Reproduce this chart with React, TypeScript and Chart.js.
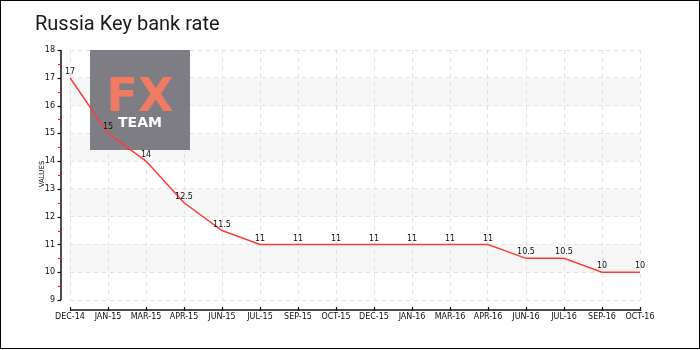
import React, { useEffect, useRef } from "react";
import { Chart, registerables } from "chart.js";

Chart.register(...registerables);

const categories = [
  "DEC-14", "JAN-15", "MAR-15", "APR-15", "JUN-15", "JUL-15", "SEP-15", "OCT-15",
  "DEC-15", "JAN-16", "MAR-16", "APR-16", "JUN-16", "JUL-16", "SEP-16", "OCT-16",
];
const rates = [17, 15, 14, 12.5, 11.5, 11, 11, 11, 11, 11, 11, 11, 10.5, 10.5, 10, 10];
const yMin = 9;
const yMax = 18;
const shadedBands = [[10, 11], [12, 13], [14, 15], [16, 17]];
const minorTicks = [9.5, 10.5, 11.5, 12.5, 13.5, 14.5, 15.5, 16.5, 17.5];
const titleText = "Russia Key bank rate";
const yTitle = "VALUES";

const FONT = "DejaVu Sans";

const customPlugin = {
  id: "custom",
  beforeDraw(chart: any) {
    const { ctx, chartArea, scales } = chart;
    const y = scales.y;
    ctx.save();
    ctx.fillStyle = "#fff";
    ctx.fillRect(0, 0, chart.width, chart.height);
    ctx.fillStyle = "#f7f7f7";
    for (const [a, b] of shadedBands) {
      const y1 = y.getPixelForValue(b);
      const y2 = y.getPixelForValue(a);
      ctx.fillRect(chartArea.left, y1, chartArea.right - chartArea.left, y2 - y1);
    }
    ctx.restore();
  },
  beforeDatasetsDraw(chart: any) {
    const { ctx } = chart;
    ctx.save();
    ctx.fillStyle = "rgba(118,117,124,0.94)";
    ctx.fillRect(90, 50, 100, 100);
    ctx.fillStyle = "#f07a62";
    ctx.font = `bold 46px ${FONT}`;
    ctx.textAlign = "center";
    ctx.textBaseline = "alphabetic";
    ctx.fillText("FX", 140, 111);
    ctx.fillStyle = "#ffffff";
    ctx.font = `bold 14px ${FONT}`;
    ctx.fillText("TEAM", 140, 127);
    ctx.restore();
  },
  afterDatasetsDraw(chart: any) {
    const { ctx, scales } = chart;
    const x = scales.x;
    const y = scales.y;
    ctx.save();
    ctx.fillStyle = "#111";
    ctx.font = `8px ${FONT}`;
    ctx.textAlign = "center";
    ctx.textBaseline = "bottom";
    rates.forEach((v, i) => {
      const px = x.getPixelForValue(i);
      const py = y.getPixelForValue(v);
      ctx.fillText(String(v), px, py - 2);
    });
    ctx.restore();
  },
  afterDraw(chart: any) {
    const { ctx, chartArea, scales } = chart;
    const x = scales.x;
    const y = scales.y;
    ctx.save();
    const ax = chartArea.left - 9;
    ctx.strokeStyle = "#111";
    ctx.lineWidth = 1.5;
    ctx.beginPath();
    ctx.moveTo(ax, chartArea.top);
    ctx.lineTo(ax, chartArea.bottom);
    ctx.stroke();
    ctx.lineWidth = 1.2;
    for (let v = yMin; v <= yMax; v++) {
      const py = Math.round(y.getPixelForValue(v)) + 0.5;
      ctx.beginPath();
      ctx.moveTo(ax - 3.5, py);
      ctx.lineTo(ax, py);
      ctx.stroke();
    }
    ctx.strokeStyle = "#e02020";
    for (const v of minorTicks) {
      const py = Math.round(y.getPixelForValue(v)) + 0.5;
      ctx.beginPath();
      ctx.moveTo(ax - 3, py);
      ctx.lineTo(ax, py);
      ctx.stroke();
    }
    const ay = chartArea.bottom + 10;
    ctx.strokeStyle = "#111";
    ctx.lineWidth = 1.5;
    ctx.beginPath();
    ctx.moveTo(chartArea.left, ay);
    ctx.lineTo(chartArea.right, ay);
    ctx.stroke();
    ctx.lineWidth = 1.2;
    categories.forEach((_, i) => {
      const px = Math.round(x.getPixelForValue(i)) + 0.5;
      ctx.beginPath();
      ctx.moveTo(px, ay - 3);
      ctx.lineTo(px, ay + 1);
      ctx.stroke();
    });
    ctx.fillStyle = "#111";
    ctx.font = `7px ${FONT}`;
    ctx.textAlign = "center";
    ctx.textBaseline = "middle";
    ctx.translate(42, 174);
    ctx.rotate(-Math.PI / 2);
    ctx.fillText(yTitle, 0, 0);
    ctx.setTransform(1, 0, 0, 1, 0, 0);
    ctx.font = `20px Roboto`;
    ctx.textAlign = "left";
    ctx.textBaseline = "alphabetic";
    ctx.fillStyle = "#1a1a1a";
    ctx.fillText(titleText, 35, 30);
    ctx.strokeStyle = "#000";
    ctx.lineWidth = 1;
    ctx.strokeRect(0.5, 0.5, chart.width - 1, chart.height - 2);
    ctx.restore();
  },
};

export default function App() {
  const ref = useRef<HTMLCanvasElement | null>(null);
  useEffect(() => {
    document.body.style.margin = "0";
    if (!ref.current) return;
    const chart = new Chart(ref.current, {
      type: "line",
      data: {
        labels: categories,
        datasets: [
          {
            data: rates,
            borderColor: "#ff3b3b",
            borderWidth: 1.5,
            pointRadius: 0,
            fill: false,
            tension: 0,
          },
        ],
      },
      options: {
        animation: false,
        responsive: true,
        maintainAspectRatio: false,
        layout: { padding: { left: 30, right: 60, top: 50, bottom: 20 } },
        plugins: {
          legend: { display: false },
          tooltip: { enabled: false },
          title: { display: false },
        },
        scales: {
          x: {
            offset: false,
            grid: { color: "#e2e2e2", drawTicks: false },
            border: { display: false, dash: [4, 4] },
            ticks: {
              padding: 12,
              autoSkip: false,
              maxRotation: 0,
              color: "#111",
              font: { family: FONT, size: 8 },
            },
            afterFit: (s: any) => {
              s.height = 30;
            },
          },
          y: {
            min: yMin,
            max: yMax,
            grid: { color: "#e2e2e2", drawTicks: false },
            border: { display: false, dash: [4, 4] },
            ticks: {
              stepSize: 1,
              padding: 15,
              color: "#111",
              font: { family: FONT, size: 8 },
            },
            afterFit: (s: any) => {
              s.width = 40;
            },
          },
        },
      },
      plugins: [customPlugin],
    });
    return () => chart.destroy();
  }, []);
  return (
    <div style={{ width: 700, height: 350, position: "relative" }}>
      <canvas ref={ref} />
    </div>
  );
}
